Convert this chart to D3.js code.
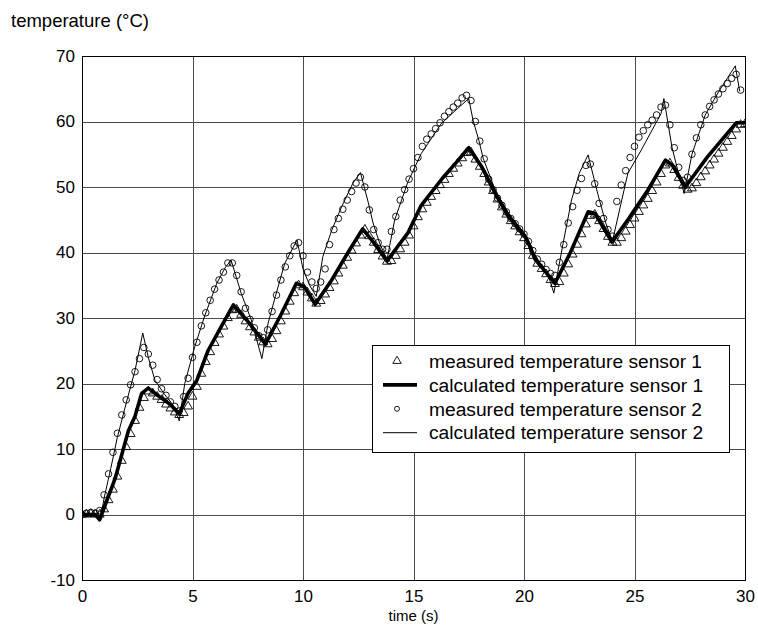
<!DOCTYPE html>
<html>
<head>
<meta charset="utf-8">
<script src="https://cdn.jsdelivr.net/npm/d3@7"></script>
<style>
  body { margin: 0; background: #fff; }
  svg { display: block; font-family: "Liberation Sans", Arial, sans-serif; }
</style>
</head>
<body>
<div class="svg"></div>
<script>
// sampling interval of the measurements (s)
var sampleStep = 0.2;

// measured temperature sensor 1 (triangles), one value every 0.2 s from t = 0
var measured1 = [
  0, 0, 0.1, 0, 0, 0.8, 2.2, 3.8, 5.8, 8.2,
  10.3, 12.3, 14.3, 16.3, 17.8, 18.8, 18.5, 18.0, 17.5, 16.8,
  16.2, 15.6, 15.2, 15.5, 16.5, 18, 19.5, 21.5, 23.3, 24.8,
  26.2, 27.5, 28.7, 30, 31.2, 31.3, 30.5, 29.5, 28.6, 27.8,
  27, 26.3, 26, 26.8, 28, 29.5, 31, 32.5, 33.8, 35,
  34.7, 33.9, 33, 32.2, 32.6, 33.6, 34.6, 35.6, 36.8, 38,
  39.2, 40.3, 41.4, 42.6, 43.5, 42.5, 41.5, 40.4, 39.4, 38.6,
  38.7, 39.5, 40.5, 41.5, 42.6, 44, 45.4, 46.6, 47.6, 48.5,
  49.4, 50.3, 51.1, 52, 52.8, 53.6, 54.4, 55.2, 55.3, 54.2,
  53.1, 52, 50.7, 49.4, 48.1, 46.9, 45.8, 44.8, 44, 43.1,
  42.2, 41, 39.5, 38.3, 37.5, 36.7, 35.8, 35.2, 35.5, 36.8,
  38.2, 39.7, 41.2, 42.8, 44.3, 45.6, 45.8, 44.8, 43.6, 42.4,
  41.5, 41.5, 42.2, 43.2, 44.2, 45.2, 46.2, 47.2, 48.2, 49.4,
  50.7, 52, 53.3, 53.6, 52.6, 51.4, 50.2, 49.6, 49.8, 50.6,
  51.5, 52.4, 53.3, 54.2, 55.1, 56, 56.9, 57.8, 58.8, 59.5,
  59.6
];

// measured temperature sensor 2 (circles), one value every 0.2 s from t = 0
var measured2 = [
  0, 0.2, 0.3, 0.2, 0.6, 3, 6.2, 9.5, 12.4, 15.2,
  17.5, 19.8, 21.8, 23.8, 25.5, 24.5, 22.8, 20.6, 19.2, 18.2,
  17.2, 16.5, 15.8, 18, 20.8, 24, 26.3, 28.8, 30.8, 32.7,
  34.4, 35.8, 37, 38.4, 38.4, 36.5, 34, 31.5, 29.8, 28.5,
  27.3, 27, 28.2, 31, 33.5, 35.8, 37.8, 39.5, 41, 41.5,
  39.5, 37, 35.5, 34.5, 35.5, 37.5, 41.2, 43.5, 45.2, 46.6,
  48.0, 49.3, 50.6, 51.5, 50, 46.5, 43.5, 41.5, 40.5, 40.5,
  43.2, 45.5, 48, 49.6, 51.2, 52.8, 54.5, 56.2, 57.3, 58.1,
  58.9, 59.8, 60.8, 61.5, 62.2, 62.8, 63.6, 64, 63.2, 60,
  57, 54.3, 51.2, 49.6, 48.3, 47.2, 46.2, 45.2, 44.4, 43.6,
  42.8, 41.7, 40.3, 39, 38.2, 37.4, 36.8, 36.5, 38.5, 41.2,
  44.5, 47, 49.5, 51.3, 53.3, 53.5, 50.5, 47.5, 45.2, 43.5,
  42.5, 47.8, 50.3, 52.5, 54.5, 56.2, 57.6, 58.6, 59.5, 60.2,
  61, 62.2, 62.5, 59.5, 56, 53, 51, 51.5, 55, 57.5,
  59.5, 61, 62.3, 63.3, 64.2, 65, 65.8, 66.6, 67.2, 64.8
];

// calculated temperature sensor 1 (thick line)
var calc1Time = [0, 0.6, 0.8, 1.0, 1.5, 2.1, 2.4, 2.7, 3.0, 3.5, 4.0, 4.4, 4.8, 5.2, 5.7, 6.3, 6.85,
  7.5, 8.3, 9.0, 9.7, 10.05, 10.55, 11.3, 12.0, 12.7, 13.2, 13.8, 14.3, 14.75, 15.35, 16.3, 16.9,
  17.5, 18.1, 18.7, 19.3, 20.1, 20.5, 21.4, 22.1, 22.9, 23.2, 23.98, 24.7, 25.6, 26.4, 26.7, 27.3,
  28.3, 29.6, 30];
var calc1Temp = [0, 0, -0.8, 1.0, 5.5, 12.8, 15, 18.5, 19.3, 18, 16.8, 15.4, 18.5, 20.5, 25, 28.7, 32,
  29.5, 26, 30.5, 35.3, 34.8, 32.1, 35.8, 39.8, 43.6, 41.5, 38.7, 41, 43, 47.2, 51.3, 53.6,
  56, 53, 49, 45.5, 42.2, 39, 35.3, 40, 46.2, 46, 41.6, 45, 49.5, 54.1, 53.4, 50,
  54.6, 59.8, 59.8];

// calculated temperature sensor 2 (thin line)
var calc2Time = [0, 0.7, 0.85, 1.0, 1.3, 1.6, 2.0, 2.4, 2.75, 3.0, 3.3, 3.7, 4.1, 4.4, 4.65, 5.1, 5.55,
  6.1, 6.5, 6.75, 7.2, 7.66, 8.14, 8.42, 8.75, 9.17, 9.73, 10.0, 10.3, 10.6, 10.9, 11.3, 11.75,
  12.26, 12.6, 12.94, 13.17, 13.47, 13.8, 14.15, 14.75, 15.35, 16.26, 17.0, 17.5, 17.7, 17.96,
  18.15, 18.7, 19.3, 20.1, 20.5, 21.1, 21.35, 21.77, 22.15, 22.5, 22.9, 23.35, 23.7, 24.0, 24.7,
  25.3, 26.2, 26.33, 26.7, 27.0, 27.25, 27.6, 28.2, 28.8, 29.2, 29.56, 29.76];
var calc2Temp = [0, 0.1, -0.3, 2.5, 7, 11.8, 17, 22, 27.7, 24, 20.5, 18.5, 16.8, 14.3, 20, 25.6, 30.3,
  35.3, 37.8, 38.8, 33.8, 29.7, 23.8, 29.2, 33.3, 38.3, 41.9, 37.5, 35, 33.3, 39.4, 43.4, 47,
  50.6, 52.2, 47.8, 44.5, 41.4, 38.9, 45, 50.8, 55.1, 59.7, 62, 63.5, 60.1, 57.1,
  54.4, 49.5, 46, 42.6, 39.5, 36.5, 33.8, 41.4, 48, 52.1, 54.9, 48.8, 44.5, 41.7, 52.1,
  55.6, 61.2, 63.5, 56, 52, 49, 55, 61, 64.5, 66.6, 68.5, 64.6];

// axes
var xTicks = [0, 5, 10, 15, 20, 25, 30];
var yTicks = [-10, 0, 10, 20, 30, 40, 50, 60, 70];

var legendLabels = [
  "measured temperature sensor 1",
  "calculated temperature sensor 1",
  "measured temperature sensor 2",
  "calculated temperature sensor 2"
];

function tempChart(settings) {
  for (var k in tempChart.defaults) this[k] = tempChart.defaults[k];
  for (var s in settings) this[s] = settings[s];
  this.appendSvg('div.svg');
  this.makeScales();
  this.drawGrid();
  this.drawSeries();
  this.drawAxes();
  this.drawLegend();
}

tempChart.defaults = {
  'svg_width': 758,
  'svg_height': 637,
  'left': 82,
  'right': 745,
  'top': 56,
  'bottom': 580
};

tempChart.prototype.appendSvg = function (selector) {
  this.svg = d3.select(selector || 'body')
    .append('svg')
    .attr('width', this.svg_width)
    .attr('height', this.svg_height);
};

tempChart.prototype.makeScales = function () {
  this.x = d3.scaleLinear().domain([0, 30]).range([this.left, this.right]);
  this.y = d3.scaleLinear().domain([-10, 70]).range([this.bottom, this.top]);
};

tempChart.prototype.drawGrid = function () {
  var x = this.x, y = this.y, _self = this;
  var g = this.svg.append('g').attr('class', 'grid');
  g.selectAll('line.vx')
    .data(xTicks.slice(1, -1))
    .enter().append('line')
    .attr('x1', function (d) { return Math.round(x(d)) + 0.5; })
    .attr('x2', function (d) { return Math.round(x(d)) + 0.5; })
    .attr('y1', _self.top)
    .attr('y2', _self.bottom)
    .attr('stroke', '#4a4a4a')
    .attr('stroke-width', 1);
  g.selectAll('line.hy')
    .data(yTicks.slice(1, -1))
    .enter().append('line')
    .attr('x1', _self.left)
    .attr('x2', _self.right)
    .attr('y1', function (d) { return Math.round(y(d)) + 0.5; })
    .attr('y2', function (d) { return Math.round(y(d)) + 0.5; })
    .attr('stroke', '#4a4a4a')
    .attr('stroke-width', 1);
};

tempChart.prototype.drawSeries = function () {
  var x = this.x, y = this.y;
  var svg = this.svg;

  svg.append('clipPath').attr('id', 'plotclip')
    .append('rect')
    .attr('x', this.left).attr('y', this.top)
    .attr('width', this.right - this.left)
    .attr('height', this.bottom - this.top);

  var g = svg.append('g').attr('clip-path', 'url(#plotclip)');

  var line = d3.line()
    .x(function (d) { return x(d[0]); })
    .y(function (d) { return y(d[1]); });

  var c1 = calc1Time.map(function (t, i) { return [t, calc1Temp[i]]; });
  var c2 = calc2Time.map(function (t, i) { return [t, calc2Temp[i]]; });
  var m1 = measured1.map(function (v, i) { return [i * sampleStep, v]; });
  var m2 = measured2.map(function (v, i) { return [i * sampleStep, v]; });

  // circles (sensor 2)
  g.selectAll('circle.m2')
    .data(m2)
    .enter().append('circle')
    .attr('cx', function (d) { return x(d[0]); })
    .attr('cy', function (d) { return y(d[1]); })
    .attr('r', 3.3)
    .attr('fill', 'none')
    .attr('stroke', '#000')
    .attr('stroke-width', 0.9);

  // triangles (sensor 1)
  var tri = d3.symbol().type(d3.symbolTriangle).size(34);
  g.selectAll('path.m1')
    .data(m1)
    .enter().append('path')
    .attr('d', tri)
    .attr('transform', function (d) { return 'translate(' + x(d[0]) + ',' + y(d[1]) + ')'; })
    .attr('fill', 'none')
    .attr('stroke', '#000')
    .attr('stroke-width', 0.9);

  g.append('path')
    .datum(c2)
    .attr('d', line)
    .attr('fill', 'none')
    .attr('stroke', '#000')
    .attr('stroke-width', 1);

  g.append('path')
    .datum(c1)
    .attr('d', line)
    .attr('fill', 'none')
    .attr('stroke', '#000')
    .attr('stroke-width', 3.6)
    .attr('stroke-linejoin', 'round');
};

tempChart.prototype.drawAxes = function () {
  var x = this.x, y = this.y, svg = this.svg;

  svg.append('rect')
    .attr('x', this.left + 0.5).attr('y', this.top + 0.5)
    .attr('width', this.right - this.left)
    .attr('height', this.bottom - this.top)
    .attr('fill', 'none')
    .attr('stroke', '#000')
    .attr('stroke-width', 1);

  // plain hyphen for negative numbers, as in the original
  var fmt = function (d) { return String(d); };

  svg.append('g')
    .attr('transform', 'translate(0,' + this.bottom + ')')
    .call(d3.axisBottom(x).tickValues(xTicks).tickFormat(fmt).tickSize(0).tickPadding(10))
    .call(function (g) { g.select('.domain').remove(); })
    .selectAll('text')
    .attr('font-size', 17)
    .attr('font-family', '"Liberation Sans", Arial, sans-serif')
    .attr('fill', '#000');

  svg.append('g')
    .attr('transform', 'translate(' + this.left + ',0)')
    .call(d3.axisLeft(y).tickValues(yTicks).tickFormat(fmt).tickSize(0).tickPadding(7))
    .call(function (g) { g.select('.domain').remove(); })
    .selectAll('text')
    .attr('font-size', 17)
    .attr('font-family', '"Liberation Sans", Arial, sans-serif')
    .attr('fill', '#000');

  svg.append('text')
    .attr('x', (this.left + this.right) / 2)
    .attr('y', 621)
    .attr('text-anchor', 'middle')
    .attr('font-size', 15)
    .text('time (s)');

  svg.append('text')
    .attr('x', 11)
    .attr('y', 27)
    .attr('font-size', 18.5)
    .text('temperature (\u00B0C)');
};

tempChart.prototype.drawLegend = function () {
  var svg = this.svg;
  var bx = 372, by = 345, bw = 357, bh = 107, rowH = 23.9;
  var g = svg.append('g').attr('class', 'legend');
  g.append('rect')
    .attr('x', bx + 0.5).attr('y', by + 0.5)
    .attr('width', bw).attr('height', bh)
    .attr('fill', '#fff').attr('stroke', '#000');

  var rows = g.selectAll('g.row')
    .data(legendLabels)
    .enter().append('g')
    .attr('transform', function (d, i) { return 'translate(' + bx + ',' + (by + 16 + i * rowH) + ')'; });

  rows.append('text')
    .attr('x', 57)
    .attr('dy', '0.35em')
    .attr('font-size', 19.2)
    .text(function (d) { return d; });

  rows.each(function (d, i) {
    var r = d3.select(this);
    if (i === 0) {
      r.append('path').attr('d', d3.symbol().type(d3.symbolTriangle).size(30))
        .attr('transform', 'translate(25,0)')
        .attr('fill', 'none').attr('stroke', '#000').attr('stroke-width', 0.9);
    } else if (i === 2) {
      r.append('circle').attr('cx', 25).attr('cy', 0).attr('r', 2.5)
        .attr('fill', 'none').attr('stroke', '#000').attr('stroke-width', 0.9);
    } else {
      r.append('line').attr('x1', 11).attr('x2', 45)
        .attr('stroke', '#000').attr('stroke-width', i === 1 ? 3.6 : 1);
    }
  });
};

new tempChart({});
</script>
</body>
</html>
